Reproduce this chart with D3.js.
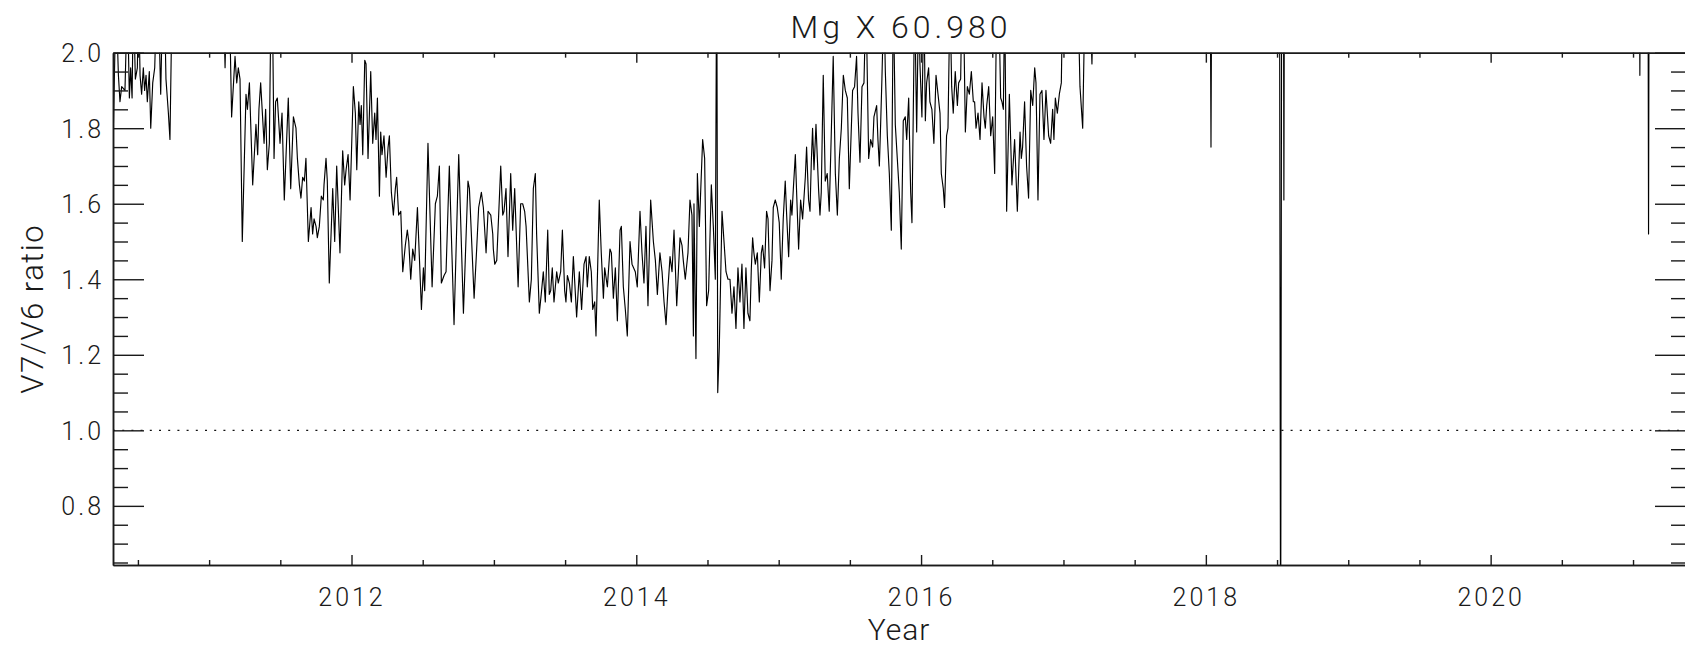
<!DOCTYPE html>
<html><head><meta charset="utf-8">
<script src="https://cdn.jsdelivr.net/npm/d3@7"></script>
<style>
html,body{margin:0;padding:0;background:#fff;}
svg{display:block;}
text{font-family:Roboto,"Liberation Sans",sans-serif;font-weight:300;fill:#1a1a1a;}
</style></head><body><svg id="chart" width="1685" height="647"></svg>
<script>
// ---- data (decimal year, V7/V6 ratio); values above 2.0 are off the plotted range ----
const years = [
2010.327,2010.346,2010.363,2010.374,2010.386,2010.409,2010.426,2010.440,2010.449,2010.459,
2010.468,2010.482,2010.496,2010.505,2010.515,2010.526,2010.538,2010.547,2010.557,2010.566,
2010.580,2010.590,2010.604,2010.618,2010.632,2010.643,2010.660,2010.674,2010.686,2010.697,
2010.714,2010.725,2010.742,2010.850,2010.980,2011.100,2011.112,2011.123,2011.142,2011.158,
2011.182,2011.194,2011.205,2011.217,2011.233,2011.259,2011.269,2011.283,2011.306,2011.329,
2011.341,2011.350,2011.362,2011.386,2011.397,2011.409,2011.423,2011.435,2011.444,2011.456,
2011.467,2011.479,2011.498,2011.512,2011.528,2011.556,2011.573,2011.592,2011.610,2011.620,
2011.634,2011.645,2011.657,2011.669,2011.680,2011.697,2011.716,2011.727,2011.737,2011.751,
2011.760,2011.774,2011.788,2011.802,2011.807,2011.821,2011.830,2011.844,2011.868,2011.882,
2011.896,2011.919,2011.938,2011.952,2011.962,2011.976,2011.990,2012.013,2012.027,2012.037,
2012.051,2012.060,2012.069,2012.079,2012.093,2012.102,2012.116,2012.135,2012.149,2012.163,
2012.172,2012.182,2012.196,2012.205,2012.214,2012.228,2012.243,2012.257,2012.266,2012.280,
2012.294,2012.308,2012.317,2012.331,2012.346,2012.360,2012.378,2012.392,2012.402,2012.416,
2012.430,2012.444,2012.463,2012.491,2012.505,2012.514,2012.537,2012.566,2012.589,2012.603,
2012.617,2012.631,2012.650,2012.664,2012.687,2012.720,2012.753,2012.786,2012.818,2012.828,
2012.861,2012.879,2012.893,2012.912,2012.926,2012.945,2012.959,2012.978,2012.992,2012.996,
2013.006,2013.020,2013.048,2013.062,2013.071,2013.085,2013.099,2013.118,2013.132,2013.146,
2013.170,2013.188,2013.202,2013.216,2013.226,2013.249,2013.263,2013.277,2013.291,2013.300,
2013.319,2013.335,2013.347,2013.361,2013.378,2013.389,2013.399,2013.410,2013.422,2013.441,
2013.452,2013.469,2013.481,2013.497,2013.506,2013.516,2013.530,2013.544,2013.558,2013.581,
2013.600,2013.616,2013.633,2013.647,2013.656,2013.670,2013.684,2013.694,2013.708,2013.717,
2013.740,2013.754,2013.769,2013.778,2013.797,2013.815,2013.825,2013.839,2013.853,2013.867,
2013.886,2013.895,2013.909,2013.923,2013.937,2013.956,2013.970,2013.993,2014.007,2014.026,
2014.040,2014.054,2014.068,2014.082,2014.101,2014.120,2014.134,2014.148,2014.166,2014.181,
2014.195,2014.209,2014.223,2014.237,2014.251,2014.265,2014.284,2014.307,2014.321,2014.330,
2014.344,2014.363,2014.377,2014.391,2014.401,2014.405,2014.419,2014.429,2014.443,2014.466,
2014.480,2014.494,2014.508,2014.527,2014.541,2014.555,2014.565,2014.572,2014.583,2014.602,
2014.616,2014.630,2014.644,2014.658,2014.672,2014.686,2014.700,2014.714,2014.728,2014.742,
2014.756,2014.770,2014.784,2014.798,2014.808,2014.817,2014.826,2014.836,2014.850,2014.864,
2014.878,2014.887,2014.901,2014.915,2014.925,2014.939,2014.953,2014.962,2014.976,2014.990,
2015.004,2015.018,2015.032,2015.046,2015.056,2015.070,2015.084,2015.093,2015.103,2015.117,
2015.126,2015.140,2015.154,2015.168,2015.187,2015.196,2015.210,2015.220,2015.229,2015.238,
2015.248,2015.262,2015.280,2015.290,2015.299,2015.313,2015.327,2015.341,2015.355,2015.369,
2015.383,2015.398,2015.412,2015.426,2015.440,2015.454,2015.468,2015.482,2015.496,2015.519,
2015.533,2015.547,2015.557,2015.571,2015.585,2015.599,2015.613,2015.632,2015.646,2015.660,
2015.669,2015.688,2015.697,2015.707,2015.716,2015.725,2015.739,2015.749,2015.763,2015.777,
2015.791,2015.805,2015.819,2015.833,2015.847,2015.861,2015.875,2015.889,2015.899,2015.913,
2015.927,2015.936,2015.955,2015.969,2015.983,2015.992,2016.006,2016.020,2016.030,2016.039,
2016.053,2016.062,2016.076,2016.090,2016.105,2016.119,2016.133,2016.142,2016.156,2016.165,
2016.179,2016.189,2016.203,2016.215,2016.226,2016.240,2016.255,2016.264,2016.278,2016.287,
2016.297,2016.311,2016.325,2016.339,2016.353,2016.367,2016.376,2016.386,2016.400,2016.414,
2016.428,2016.442,2016.451,2016.461,2016.475,2016.489,2016.503,2016.517,2016.531,2016.545,
2016.559,2016.568,2016.578,2016.587,2016.601,2016.620,2016.638,2016.657,2016.676,2016.695,
2016.704,2016.713,2016.727,2016.741,2016.755,2016.770,2016.784,2016.798,2016.807,2016.821,
2016.835,2016.849,2016.863,2016.877,2016.896,2016.910,2016.924,2016.933,2016.943,2016.957,
2016.971,2016.985,2016.994,2017.102,2017.116,2017.135,2017.151,2017.186,2017.200,2017.210,
2017.500,2017.800,2018.030,2018.036,2018.042,2018.300,2018.517,2018.525,2018.533,2018.545,
2018.548,2018.552,2019.000,2019.600,2020.200,2020.800,2021.044,2021.048,2021.052,2021.105,
2021.109,2021.113,2021.300
];
const ratios = [
1.79,2.15,1.94,1.87,1.91,1.90,2.15,1.88,1.96,1.88,
2.15,1.93,1.96,2.15,1.94,1.89,1.96,1.90,1.94,1.87,
1.95,1.80,1.92,1.96,2.15,2.15,1.89,2.15,2.15,1.93,
1.84,1.77,2.20,2.30,2.25,2.15,1.96,2.15,2.15,1.83,
1.99,1.92,1.96,1.93,1.50,1.89,1.85,1.92,1.65,1.81,
1.73,1.85,1.92,1.76,1.85,1.69,1.76,2.15,2.15,1.72,
1.87,1.88,1.76,1.84,1.61,1.88,1.64,1.83,1.80,1.72,
1.65,1.615,1.67,1.66,1.72,1.50,1.59,1.52,1.56,1.54,
1.51,1.54,1.62,1.61,1.65,1.72,1.66,1.39,1.64,1.50,
1.70,1.47,1.74,1.65,1.69,1.73,1.61,1.91,1.84,1.69,
1.87,1.81,1.86,1.73,1.98,1.97,1.72,1.95,1.76,1.84,
1.77,1.88,1.62,1.79,1.73,1.78,1.67,1.75,1.78,1.63,
1.57,1.64,1.67,1.57,1.58,1.42,1.49,1.53,1.50,1.40,
1.48,1.45,1.59,1.32,1.43,1.37,1.76,1.38,1.60,1.62,
1.70,1.39,1.41,1.42,1.70,1.28,1.73,1.31,1.66,1.64,
1.35,1.48,1.59,1.63,1.59,1.47,1.58,1.57,1.52,1.48,
1.44,1.45,1.70,1.57,1.58,1.64,1.46,1.68,1.53,1.64,
1.38,1.60,1.60,1.58,1.54,1.34,1.40,1.64,1.68,1.52,
1.31,1.37,1.42,1.34,1.53,1.36,1.37,1.43,1.34,1.42,
1.39,1.42,1.53,1.37,1.34,1.41,1.39,1.34,1.46,1.30,
1.42,1.32,1.44,1.46,1.38,1.46,1.42,1.32,1.34,1.25,
1.61,1.47,1.35,1.43,1.38,1.48,1.47,1.35,1.43,1.29,
1.53,1.54,1.38,1.32,1.25,1.50,1.44,1.42,1.38,1.58,
1.47,1.39,1.54,1.33,1.61,1.50,1.45,1.36,1.47,1.42,
1.34,1.28,1.38,1.46,1.42,1.53,1.33,1.51,1.49,1.45,
1.40,1.47,1.61,1.57,1.25,1.60,1.19,1.68,1.54,1.77,
1.72,1.33,1.37,1.65,1.54,1.40,2.30,1.10,1.22,1.58,
1.50,1.42,1.40,1.40,1.31,1.38,1.27,1.43,1.34,1.44,
1.27,1.43,1.31,1.29,1.43,1.51,1.47,1.44,1.47,1.34,
1.47,1.49,1.43,1.58,1.56,1.37,1.45,1.59,1.61,1.59,
1.55,1.40,1.56,1.66,1.57,1.46,1.61,1.57,1.64,1.73,
1.63,1.48,1.61,1.56,1.67,1.75,1.61,1.58,1.71,1.80,
1.69,1.81,1.64,1.57,1.63,1.94,1.66,1.68,1.58,1.78,
1.99,1.68,1.57,1.72,1.80,1.94,1.90,1.88,1.64,1.90,
1.91,1.99,1.84,1.71,1.91,1.92,2.15,1.72,1.77,1.75,
1.83,1.86,1.77,1.70,1.81,1.93,2.15,1.95,1.78,1.68,
1.53,2.15,1.81,1.72,1.63,1.48,1.82,1.83,1.77,1.88,
1.63,1.55,2.15,1.79,2.15,1.97,1.83,2.15,1.82,1.92,
1.96,1.87,1.85,1.76,1.94,1.89,1.84,1.68,1.64,1.59,
1.78,1.80,2.15,1.91,1.84,1.95,1.86,1.92,1.93,2.15,
2.15,1.79,1.91,1.89,1.95,1.87,1.87,1.80,1.84,1.77,
1.92,1.83,1.80,1.86,1.91,1.78,1.83,1.68,2.15,2.15,
1.88,1.87,1.85,2.15,1.58,1.89,1.65,1.77,1.58,1.79,
1.72,1.75,1.87,1.70,1.615,1.90,1.86,1.96,1.92,1.61,
1.89,1.90,1.77,1.90,1.78,1.76,1.85,1.77,1.88,1.84,
1.89,1.92,2.15,2.15,1.91,1.80,2.15,2.15,1.97,2.15,
2.30,2.40,2.30,1.75,2.30,2.40,2.40,0.30,2.40,2.30,
1.61,2.30,2.40,2.40,2.40,2.40,2.30,1.94,2.30,2.30,
1.52,2.30,2.40
];
const yearTicks = [2012, 2014, 2016, 2018, 2020];
const yearTickLabels = ["2012", "2014", "2016", "2018", "2020"];
const ratioTicks = [0.8, 1.0, 1.2, 1.4, 1.6, 1.8, 2.0];
const ratioTickLabels = ["0.8", "1.0", "1.2", "1.4", "1.6", "1.8", "2.0"];
const referenceLevel = [1.0];
const yearDomain = [2010.325, 2021.372];
const ratioDomain = [0.6434, 2.0];
const titleText = "Mg X 60.980";
const xTitleText = "Year";
const yTitleText = "V7/V6 ratio";

// ---- layout ----
const L = 113, R = 1686, T = 52.67, B = 565;
const svg = d3.select("#chart");
const x = d3.scaleLinear().domain(yearDomain).range([L, R]);
const y = d3.scaleLinear().domain(ratioDomain).range([B, T]);

const yearMinor = d3.range(2010.5, 2021.01, 0.5).filter(v => !yearTicks.some(t => Math.abs(t - v) < 1e-6));
const ratioMinor = d3.range(0.65, 1.99, 0.05).map(v => +v.toFixed(2)).filter(v => !ratioTicks.some(t => Math.abs(t - v) < 1e-6));

svg.append("defs").append("clipPath").attr("id", "plotclip")
  .append("rect").attr("x", L).attr("y", T).attr("width", R - L).attr("height", B - T);

// reference dotted line
svg.append("g").selectAll("line").data(referenceLevel).join("line")
  .attr("x1", L).attr("x2", R).attr("y1", d => y(d)).attr("y2", d => y(d))
  .attr("stroke", "#111").attr("stroke-width", 1.2).attr("stroke-dasharray", "2,7.2");

// data line
const pts = years.map((t, i) => [t, ratios[i]]);
svg.append("path").datum(pts)
  .attr("clip-path", "url(#plotclip)")
  .attr("fill", "none").attr("stroke", "#000").attr("stroke-width", 1.15)
  .attr("stroke-linejoin", "round")
  .attr("d", d3.line().x(d => x(d[0])).y(d => y(d[1])));

function styleAxis(g) {
  g.selectAll("path.domain").attr("stroke", "#1a1a1a").attr("stroke-width", 1.5);
  g.selectAll(".tick line").attr("stroke", "#1a1a1a").attr("stroke-width", 1.4);
  g.selectAll(".tick text").attr("fill", "#1a1a1a");
}

// bottom axis (labelled)
const gb = svg.append("g").attr("transform", `translate(0,${B})`)
  .call(d3.axisBottom(x).tickValues(yearTicks).tickFormat((d, i) => yearTickLabels[i])
    .tickSize(-10).tickSizeOuter(0).tickPadding(41));
gb.selectAll(".tick text").attr("dy", null).attr("y", 41)
  .style("font-size", "25px").style("letter-spacing", "3px").attr("font-family", null);
svg.append("g").attr("transform", `translate(0,${B})`)
  .call(d3.axisBottom(x).tickValues(yearMinor).tickFormat("").tickSize(-5).tickSizeOuter(0)).call(styleAxis);
styleAxis(gb);

// top axis
svg.append("g").attr("transform", `translate(0,${T})`)
  .call(d3.axisTop(x).tickValues(yearTicks).tickFormat("").tickSize(-10).tickSizeOuter(0)).call(styleAxis);
svg.append("g").attr("transform", `translate(0,${T})`)
  .call(d3.axisTop(x).tickValues(yearMinor).tickFormat("").tickSize(-5).tickSizeOuter(0)).call(styleAxis);

// left axis (labelled)
const gl = svg.append("g").attr("transform", `translate(${L},0)`)
  .call(d3.axisLeft(y).tickValues(ratioTicks).tickFormat((d, i) => ratioTickLabels[i])
    .tickSize(-31).tickSizeOuter(0).tickPadding(9));
gl.selectAll(".tick text").attr("dy", "0.36em")
  .style("font-size", "25px").style("letter-spacing", "3px");
styleAxis(gl);
svg.append("g").attr("transform", `translate(${L},0)`)
  .call(d3.axisLeft(y).tickValues(ratioMinor).tickFormat("").tickSize(-15).tickSizeOuter(0)).call(styleAxis);

// right axis
svg.append("g").attr("transform", `translate(${R},0)`)
  .call(d3.axisRight(y).tickValues(ratioTicks).tickFormat("").tickSize(-31).tickSizeOuter(0)).call(styleAxis);
svg.append("g").attr("transform", `translate(${R},0)`)
  .call(d3.axisRight(y).tickValues(ratioMinor).tickFormat("").tickSize(-15).tickSizeOuter(0)).call(styleAxis);

svg.selectAll(".tick text").style("font-family", "Roboto, 'Liberation Sans', sans-serif").style("font-weight", 300);

// titles
svg.append("text").attr("x", (L + 1685) / 2 + 2).attr("y", 37.7).attr("text-anchor", "middle")
  .style("font-size", "32px").style("letter-spacing", "4px").text(titleText);
svg.append("text").attr("x", (L + 1685) / 2).attr("y", 639.5).attr("text-anchor", "middle")
  .style("font-size", "30px").style("letter-spacing", "1px").text(xTitleText);
svg.append("text").attr("transform", `translate(42.5,${(T + B) / 2}) rotate(-90)`).attr("text-anchor", "middle")
  .style("font-size", "31px").style("letter-spacing", "1.5px").text(yTitleText);
</script></body></html>
